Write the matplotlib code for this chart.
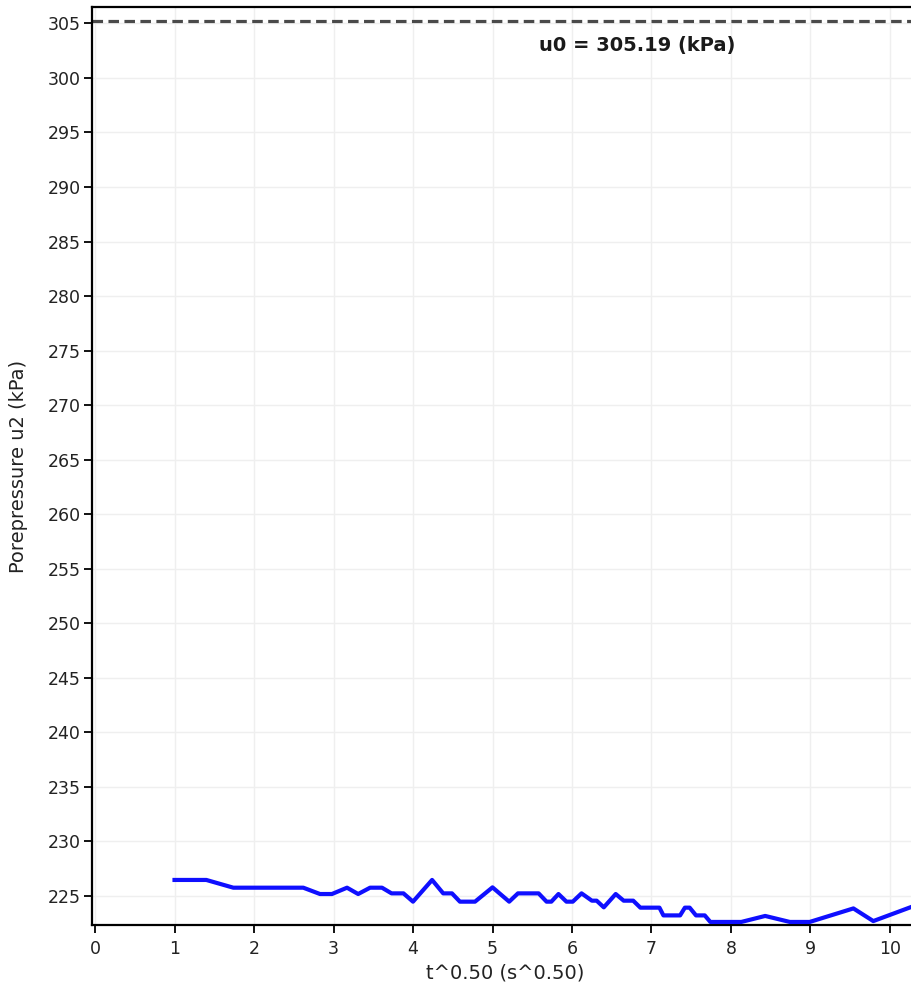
import matplotlib.pyplot as plt
import numpy as np

# Données
t_sqrt = [1.0, 1.4, 1.74, 2.62, 2.83, 2.98, 3.17, 3.31, 3.46, 3.61, 3.73, 3.88,
          4.0, 4.24, 4.38, 4.49, 4.59, 4.78, 5.0, 5.21, 5.32, 5.58, 5.68, 5.74,
          5.83, 5.93, 6.01, 6.12, 6.25, 6.31, 6.4, 6.55, 6.65, 6.77, 6.86, 7.1,
          7.15, 7.36, 7.42, 7.48, 7.56, 7.67, 7.74, 8.13, 8.43, 8.74, 8.99,
          9.54, 9.79, 10.3]
u2 = [226.47, 226.47, 225.76, 225.76, 225.18, 225.18, 225.76, 225.18, 225.76,
      225.76, 225.24, 225.24, 224.48, 226.47, 225.24, 225.24, 224.48, 224.48,
      225.79, 224.48, 225.24, 225.24, 224.48, 224.48, 225.18, 224.48, 224.48,
      225.24, 224.57, 224.57, 223.96, 225.18, 224.57, 224.57, 223.93, 223.93,
      223.22, 223.22, 223.93, 223.93, 223.22, 223.22, 222.62, 222.62, 223.17,
      222.62, 222.62, 223.86, 222.70, 224.08]

u0 = 305.19
x_ticks = np.arange(0, 11)
y_ticks = np.arange(225, 306, 5)

fig = plt.figure(figsize=(9.12, 9.94), dpi=100)
ax = fig.add_axes([92 / 912, 69 / 994, 820 / 912, 918 / 994])

# Grille très claire
ax.grid(True, color='#efefef', linewidth=1.0, zorder=0)

# Courbe de pression interstitielle
ax.plot(t_sqrt, u2, color='#0f0fff', linewidth=3.0, zorder=3)

# Ligne u0
ax.axhline(u0, color='#4a4a4a', linewidth=2.3, linestyle=(0, (3.3, 1.7)), zorder=2)
ax.text(6.82, 303.0, 'u0 = 305.19 (kPa)', ha='center', va='center',
        fontsize=14, fontweight='bold', color='#1a1a1a', family='DejaVu Sans')

ax.set_xlim(-0.038, 10.277)
ax.set_ylim(222.34, 306.5)
ax.set_xticks(x_ticks)
ax.set_yticks(y_ticks)
ax.tick_params(axis='both', direction='out', length=6, width=1.3,
               labelsize=12.5, pad=2, colors='black', labelcolor='#222222')
ax.tick_params(axis='x', pad=5)

for side in ['left', 'bottom', 'top']:
    ax.spines[side].set_linewidth(1.6)
ax.spines['right'].set_visible(False)

ax.set_ylabel('Porepressure u2 (kPa)', fontsize=14, color='#222222')
ax.yaxis.set_label_coords(-0.078, 0.5)
ax.set_xlabel('t^0.50 (s^0.50)', fontsize=14, color='#222222')
ax.xaxis.set_label_coords((505 - 92) / 820, -0.042)

fig.savefig('out.png', dpi=100)
